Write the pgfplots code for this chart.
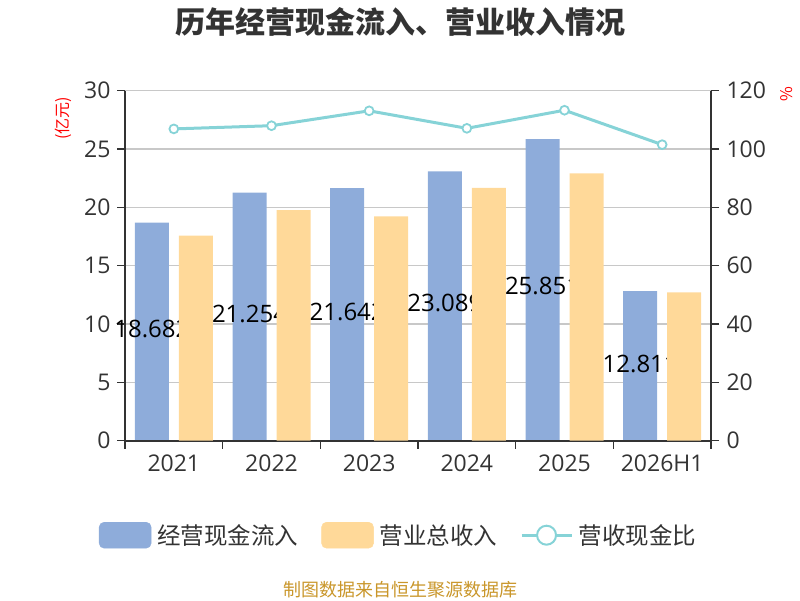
\documentclass[border=0pt]{standalone}
\usepackage{fontspec}
\setmainfont{Noto Sans CJK SC}
\newfontfamily\numfont{Open Sans}
\usepackage{pgfplots}
\pgfplotsset{compat=1.18}
\definecolor{cblue}{HTML}{8EACDA}
\definecolor{corange}{HTML}{FFD999}
\definecolor{cteal}{HTML}{86D3D7}
\definecolor{ctext}{HTML}{333333}
\definecolor{cgrid}{HTML}{C8C8C8}
\definecolor{cfoot}{HTML}{C9962A}
\pgfplotsset{
  base/.style={
    at={(125pt,159.3pt)}, anchor=south west,
    scale only axis, width=586pt, height=350pt,
    xmin=-0.5, xmax=5.5,
    axis line style={ctext, line width=1.6pt},
    tick align=outside, major tick length=8pt,
    tick style={ctext, line width=1.5pt},
    ticklabel style={font=\fontsize{23}{23}\numfont, text=ctext},
    /pgf/number format/assume math mode=true,
    clip=false,
  }
}
\begin{document}
\begin{tikzpicture}[x=1pt,y=1pt]
\path[use as bounding box] (0,0) rectangle (800,600);
\node[font=\fontsize{30}{30}\selectfont\bfseries, text=ctext] at (400,578) {历年经营现金流入、营业收入情况};
\node[font=\fontsize{18}{18}\selectfont, text=cfoot] at (400,10) {制图数据来自恒生聚源数据库};
% axis 1: grid, left axis, blue bars with labels
\begin{axis}[base,
  ymin=0, ymax=30,
  axis y line*=left, axis x line*=bottom,
  ybar, bar width=34pt,
  xtick={-0.5,0.5,...,5.5},
  xticklabels={2021,2022,2023,2024,2025,2026H1,{}},
  xticklabel style={xshift=48.83pt, yshift=-3pt},
  yticklabel style={xshift=-3pt},
  ytick={0,5,...,30},
  ymajorgrids, grid style={cgrid, line width=1.4pt},
  every axis y label/.style={at={(axis description cs:-0.1058,0.993)}, anchor=east, rotate=90, font=\fontsize{16}{16}\selectfont, text=red},
  ylabel={(亿元)},
]
\addplot[fill=cblue, draw=none, bar shift=-22pt,
  point meta=explicit symbolic,
  visualization depends on={rawy \as \rawy},
  nodes near coords,
  nodes near coords style={font=\fontsize{24}{24}\numfont, text=black, anchor=center, yshift={-5.7*\rawy}}]
  coordinates {(0,18.682)[18.682] (1,21.254)[21.254] (2,21.642)[21.642] (3,23.089)[23.089] (4,25.851)[25.851] (5,12.811)[12.811]};
\end{axis}
% axis 2: orange bars drawn over the labels
\begin{axis}[base,
  ymin=0, ymax=30,
  axis x line*=bottom, axis y line=none,
  xtick=\empty, ytick=\empty,
  ybar, bar width=34pt,
]
\addplot[fill=corange, draw=none, bar shift=22pt]
  coordinates {(0,17.57) (1,19.77) (2,19.23) (3,21.66) (4,22.92) (5,12.72)};
\end{axis}
% axis 3: ratio line, right axis, legend
\begin{axis}[base,
  ymin=0, ymax=120,
  axis y line*=right, axis x line=none,
  ytick={0,20,...,120},
  yticklabel style={xshift=4pt},
  every axis y label/.style={at={(axis description cs:1.1297,0.99)}, anchor=center, rotate=90, font=\fontsize{16}{16}\selectfont, text=red},
  ylabel={\%},
  legend columns=3,
  legend style={at={(0.467,-0.27)}, anchor=center, draw=none, fill=none,
    font=\fontsize{23.5}{23.5}\selectfont, text=ctext,
    /tikz/every odd column/.append style={column sep=4pt},
    /tikz/every even column/.append style={column sep=21pt}},
]
\addlegendimage{legend image code/.code={\fill[cblue, rounded corners=5pt] (0pt,-13pt) rectangle (52pt,13pt);}}
\addlegendentry{经营现金流入}
\addlegendimage{legend image code/.code={\fill[corange, rounded corners=5pt] (0pt,-13pt) rectangle (52pt,13pt);}}
\addlegendentry{营业总收入}
\addplot[cteal, line width=3pt, mark=*, mark size=4.4pt,
  mark options={fill=white, draw=cteal, line width=1.8pt},
  legend image code/.code={\draw[cteal, line width=2.6pt] (0pt,0pt) -- (50pt,0pt); \draw[cteal, fill=white, line width=2pt] (25pt,0pt) circle (9.5pt);}]
  coordinates {(0,106.9) (1,108.0) (2,113.1) (3,107.1) (4,113.3) (5,101.5)};
\addlegendentry{营收现金比}
\end{axis}
\end{tikzpicture}
\end{document}
